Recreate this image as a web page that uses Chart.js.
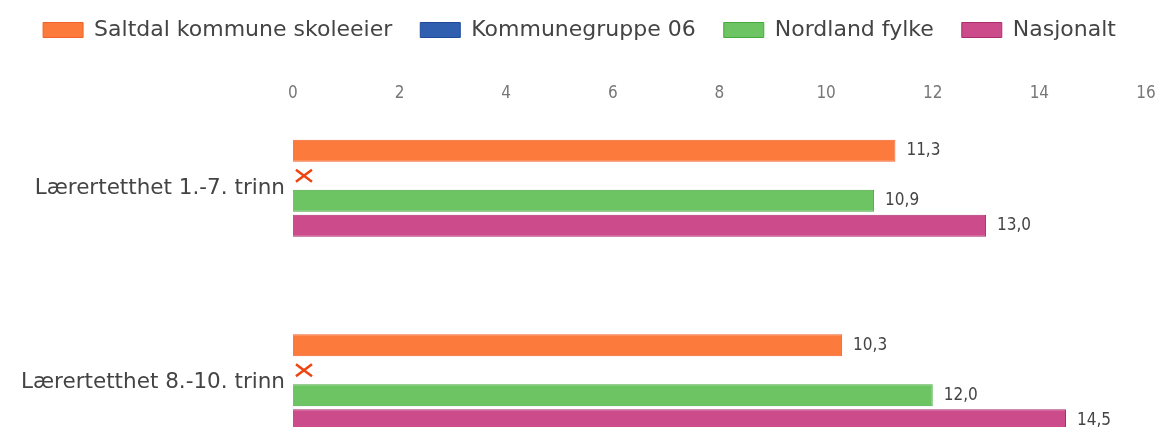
<!DOCTYPE html>
<html>
<head>
<meta charset="utf-8">
<script src="https://cdn.jsdelivr.net/npm/chart.js@4"></script>
<style>
html, body { margin: 0; padding: 0; background: #fff; overflow: hidden; }
#wrap { width: 1160px; height: 501px; }
</style>
</head>
<body>
<div id="wrap"><canvas id="myChart"></canvas></div>
<script>
const categories = ['Lærertetthet 1.-7. trinn', 'Lærertetthet 8.-10. trinn'];
const seriesNames = ['Saltdal kommune skoleeier', 'Kommunegruppe 06', 'Nordland fylke', 'Nasjonalt'];
const saltdal = [11.3, 10.3];
const kommunegruppe = [null, null]; // no data -> red cross
const nordland = [10.9, 12.0];
const nasjonalt = [13.0, 14.5];
const xTicks = [0, 2, 4, 6, 8, 10, 12, 14, 16];

const fills = ['#fc7a3c', '#2f5fae', '#6cc462', '#cb4b8b'];
const borders = ['#f0622a', '#1f4a9a', '#46a83f', '#ad2c6d'];

// value labels right of each bar, and a cross where a value is missing
const barLabels = {
  id: 'barLabels',
  afterDatasetsDraw(chart) {
    const ctx = chart.ctx;
    const x0 = chart.scales.x.getPixelForValue(0);
    ctx.save();
    chart.data.datasets.forEach((ds, i) => {
      const meta = chart.getDatasetMeta(i);
      meta.data.forEach((bar, j) => {
        const v = ds.data[j];
        if (v === null) {
          const cx = x0 + 11, cy = bar.y;
          ctx.strokeStyle = '#ee4411';
          ctx.lineWidth = 2.5;
          ctx.beginPath();
          ctx.moveTo(cx - 8, cy - 6); ctx.lineTo(cx + 8, cy + 6);
          ctx.moveTo(cx + 8, cy - 6); ctx.lineTo(cx - 8, cy + 6);
          ctx.stroke();
        } else {
          ctx.fillStyle = '#444';
          ctx.font = '17px "DejaVu Sans Condensed"';
          ctx.textBaseline = 'middle';
          ctx.textAlign = 'left';
          ctx.fillText(v.toFixed(1).replace('.', ','), bar.x + 11, bar.y);
        }
      });
    });
    ctx.restore();
  }
};

const values = [saltdal, kommunegruppe, nordland, nasjonalt];

new Chart(document.getElementById('myChart'), {
  type: 'bar',
  data: {
    labels: categories,
    datasets: seriesNames.map((name, i) => ({
      label: name,
      data: values[i],
      backgroundColor: fills[i],
      borderColor: borders[i],
      borderWidth: 1,
      categoryPercentage: 0.514,
      barPercentage: 0.88,
    })),
  },
  options: {
    indexAxis: 'y',
    responsive: true,
    maintainAspectRatio: false,
    animation: false,
    layout: { padding: { left: 13, right: 14, top: -9, bottom: 0 } },
    plugins: {
      tooltip: { enabled: false },
      legend: {
        position: 'top',
        labels: {
          boxWidth: 40,
          boxHeight: 15,
          padding: 28,
          color: '#444',
          font: { family: 'DejaVu Sans', size: 22 },
        },
      },
    },
    scales: {
      x: {
        position: 'top',
        min: 0,
        max: 16,
        afterBuildTicks: (s) => { s.ticks = xTicks.map(v => ({ value: v })); },
        afterFit: (s) => { s.height = 40; },
        grid: { display: false, drawTicks: false },
        border: { display: false },
        ticks: {
          mirror: true,
          padding: -8,
          color: '#777',
          font: { family: 'DejaVu Sans Condensed', size: 17 },
        },
      },
      y: {
        grid: { display: false, drawTicks: false },
        border: { display: false },
        ticks: {
          padding: 8,
          color: '#444',
          font: { family: 'DejaVu Sans', size: 21.5 },
        },
      },
    },
  },
  plugins: [barLabels],
});
</script>
</body>
</html>
